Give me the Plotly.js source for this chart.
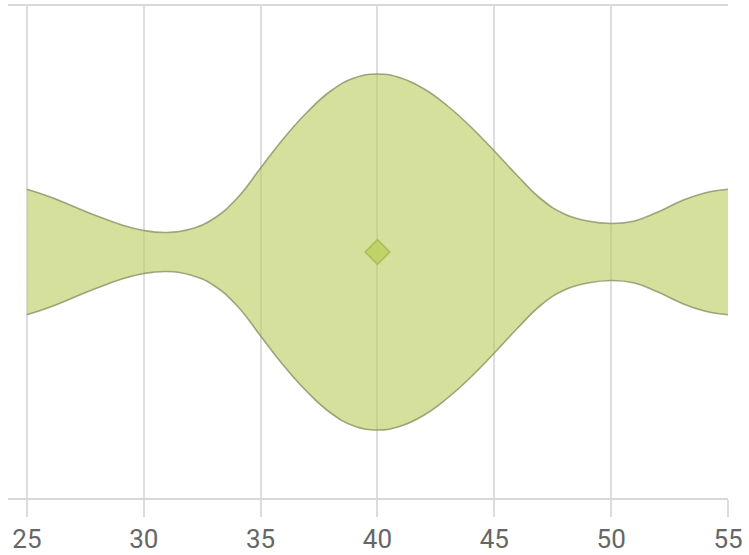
<!DOCTYPE html>
<html>
<head>
<meta charset="utf-8">
<script src="https://cdn.plot.ly/plotly-3.0.1.min.js"></script>
<style>html,body{margin:0;padding:0;background:#fff;}#chart{width:749px;height:555px;}</style>
</head>
<body>
<div id="chart"></div>
<script>
// Values sampled along the violin (x) and its half-width (density, arbitrary units)
var xValues = [25,26,27,28,29,30,31,32,33,34,35,36,37,38,39,40,41,42,43,44,45,46,47,48,49,50,51,52,53,54,55];
var halfWidth = [62.7,55,45.5,36,27.5,21.5,19.5,23,33.5,54,84,114,140,161,174,178,174,163,146,125,101,76,53,38,31,28.5,31,40,51,59,62.7];
var meanValue = [40];
var meanCenter = [0];
var tickValues = [25,30,35,40,45,50,55];
var tickLabels = ['25','30','35','40','45','50','55'];

var negHalf = halfWidth.map(function(v){return -v;});

var edge = {color:'rgba(130,140,95,0.75)', width:1.6, shape:'spline', smoothing:1.3, simplify:false};
var traces = [
  {type:'scatter', mode:'lines', x:xValues, y:halfWidth, line:edge, hoverinfo:'skip', showlegend:false},
  {type:'scatter', mode:'lines', x:xValues, y:negHalf, line:edge, fill:'tonexty',
   fillcolor:'rgba(183,203,88,0.6)', hoverinfo:'skip', showlegend:false},
  {type:'scatter', mode:'markers', x:meanValue, y:meanCenter,
   marker:{symbol:'diamond', size:19, color:'rgba(190,210,100,0.9)', line:{color:'rgba(165,185,85,0.9)', width:1.5}},
   hoverinfo:'skip', showlegend:false}
];

var layout = {
  width:749, height:555,
  margin:{l:8, r:21, t:6, b:57},
  paper_bgcolor:'#ffffff', plot_bgcolor:'#ffffff',
  showlegend:false,
  xaxis:{
    range:[24.19,55], tickvals:tickValues, ticktext:tickLabels,
    showgrid:true, gridcolor:'#dedede', gridwidth:2,
    zeroline:false,
    showline:true, linecolor:'#d8d8d8', linewidth:2, mirror:true,
    ticks:'outside', ticklen:17, tickwidth:2, tickcolor:'#dcdcdc',
    tickfont:{family:'Roboto', size:26, color:'#666666'}
  },
  yaxis:{
    range:[-246,246], showgrid:false, zeroline:false, showline:false,
    showticklabels:false, ticks:''
  }
};

Plotly.newPlot('chart', traces, layout, {displayModeBar:false, staticPlot:true});
</script>
</body>
</html>
